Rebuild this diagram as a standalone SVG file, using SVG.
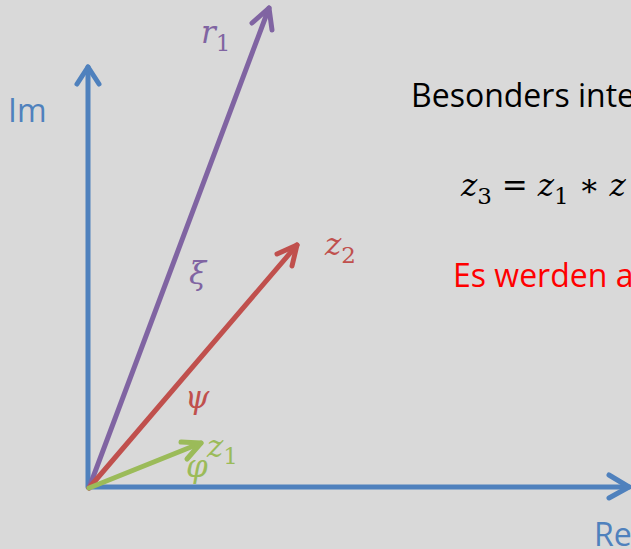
<svg xmlns="http://www.w3.org/2000/svg" width="631" height="549" viewBox="0 0 631 549">
<style>
.ax{stroke:#4F81BD;stroke-width:5;fill:none;stroke-linecap:round;stroke-linejoin:round}
.v{fill:none;stroke-width:5;stroke-linecap:round;stroke-linejoin:round}
.sans{font-family:"Open Sans","Liberation Sans",sans-serif;font-size:32px}
.m{font-family:"DejaVu Serif","Liberation Serif",serif;font-style:italic;font-size:31px}
.sub{font-family:"DejaVu Serif","Liberation Serif",serif;font-style:normal;font-size:23px}
</style>
<rect width="631" height="549" fill="#D9D9D9"/>
<g id="connectors">
<g id="axis-re"><line class="ax" x1="89" y1="487" x2="629" y2="487"/><polyline class="ax" points="609,475 629,487 609,498"/></g>
<g id="axis-im"><line class="ax" x1="88" y1="487" x2="88" y2="67"/><polyline class="ax" points="77,84 88,67 99,84"/></g>
<g id="vec-r1" stroke="#8064A2"><line class="v" x1="89" y1="488" x2="269" y2="8"/><polyline class="v" points="252,23 269,8 272,30"/></g>
<g id="vec-z2" stroke="#C0504D"><line class="v" x1="89" y1="488" x2="297" y2="245"/><polyline class="v" points="277,254 297,245 292,266"/></g>
<g id="vec-z1" stroke="#9BBB59"><line class="v" x1="89" y1="488" x2="201" y2="443"/><polyline class="v" points="181,442 201,443 187,459"/></g>
</g>
<g id="label-im"><text class="sans" x="8" y="122" fill="#4F81BD">Im</text></g>
<g id="label-re"><text class="sans" x="594" y="546" font-size="31" fill="#4F81BD">Re</text></g>
<g id="label-r1" fill="#8064A2"><text class="m" x="201" y="43">r<tspan class="sub" dy="8">1</tspan></text></g>
<g id="label-xi" fill="#8064A2"><text class="m" x="189" y="284">ξ</text></g>
<g id="label-z2" fill="#C0504D"><text class="m" x="325" y="255">z<tspan class="sub" dy="8">2</tspan></text></g>
<g id="label-psi" fill="#C0504D"><text class="m" x="185" y="408">ψ</text></g>
<g id="label-phi" fill="#9BBB59"><text class="m" x="186" y="477">φ</text></g>
<g id="label-z1" fill="#9BBB59"><text class="m" x="207" y="457">z<tspan class="sub" dy="7">1</tspan></text></g>
<g id="text-besonders"><text class="sans" x="411" y="107" font-size="31" fill="#000">Besonders inte</text></g>
<g id="text-eq"><text class="m" x="461" y="196" fill="#000">z<tspan class="sub" dy="8">3</tspan><tspan dy="-8" font-style="normal"> = </tspan>z<tspan class="sub" dy="8">1</tspan><tspan dy="-8" font-style="normal"> ∗ </tspan>z</text></g>
<g id="text-es"><text class="sans" x="453" y="287" fill="#FF0000">Es werden a</text></g>
</svg>
